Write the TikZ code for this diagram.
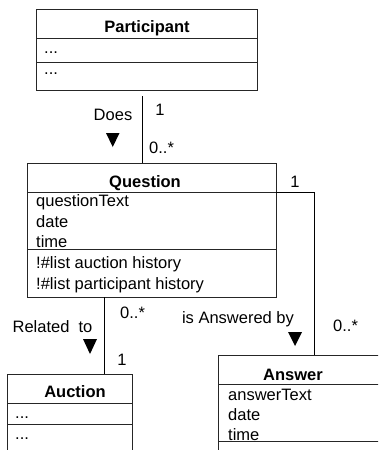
\documentclass[tikz,border=0pt]{standalone}
\usepackage{fontspec}
\setmainfont{Liberation Sans}
\begin{document}
\begin{tikzpicture}[x=1pt,y=-1pt,
  box/.style={draw=black!85,line width=1pt,rectangle,inner sep=0pt,anchor=north west},
  sep/.style={draw=black!85,line width=1pt},
  conn/.style={draw=black,line width=0.8pt},
  txt/.style={inner sep=0pt,anchor=base west,font=\fontsize{16.5}{20}\selectfont},
  ttl/.style={inner sep=0pt,anchor=base,font=\fontsize{16.5}{20}\selectfont\bfseries},
  lbl/.style={inner sep=0pt,anchor=base,font=\fontsize{16.5}{20}\selectfont},
  tri/.style={fill=black}]
\clip (0,0) rectangle (378,450);
\fill[white] (0,0) rectangle (378,450);
% Participant
\node[box,minimum width=221pt,minimum height=81pt] (P) at (36,9) {};
\draw[sep] (36,38) -- (257,38);
\draw[sep] (36,62) -- (257,62);
\node[ttl] (Pt) at (147,32) {Participant};
\node[txt] (Pa) at (44,53) {...};
\node[txt] (Pb) at (44,74) {...};
% Question
\node[box,minimum width=249pt,minimum height=134pt] (Q) at (27,163) {};
\draw[sep] (27,192) -- (276,192);
\draw[sep] (27,249) -- (276,249);
\node[ttl] (Qt) at (145,187) {Question};
\node[txt] (Q1) at (36,206) {questionText};
\node[txt] (Q2) at (36,227) {date};
\node[txt] (Q3) at (36,247) {time};
\node[txt] (Q4) at (36,268) {!\#list auction history};
\node[txt] (Q5) at (36,289) {!\#list participant history};
% Auction
\node[box,minimum width=125pt,minimum height=100pt] (Au) at (7,374) {};
\draw[sep] (7,403) -- (132,403);
\draw[sep] (7,424) -- (132,424);
\node[ttl] (Aut) at (75,397) {Auction};
\node[txt] (Aua) at (15,418) {...};
\node[txt] (Aub) at (15,439) {...};
% Answer
\node[box,minimum width=180pt,minimum height=120pt] (An) at (218,355) {};
\draw[sep] (218,384) -- (398,384);
\draw[sep] (218,441) -- (398,441);
\node[ttl] (Ant) at (293,380) {Answer};
\node[txt] (An1) at (228,400) {answerText};
\node[txt] (An2) at (228,420) {date};
\node[txt] (An3) at (228,440) {time};
% Connectors
\coordinate (d0) at (142,96);
\draw[conn] (d0) -- (d0 |- Q.north);
\coordinate (r0) at (104,297);
\draw[conn] (r0) -- (r0 |- Au.north);
\coordinate (a0) at (276,192);
\coordinate (a1) at (314,355);
\draw[conn] (a0) -| (a1);
% Labels
\node[lbl] (Ld) at (113,120) {Does};
\fill[tri] (106,133) -- (119.5,133) -- (112.75,147) -- cycle;
\node[lbl] (L1) at (160,115) {1};
\node[txt] (L2) at (149,153) {0..*};
\node[lbl] (L3) at (295,187) {1};
\node[txt] (L4) at (120,318) {0..*};
\node[lbl] (Lr) at (52.5,332) {Related\ \ to};
\fill[tri] (83,339) -- (97,339) -- (90,354) -- cycle;
\node[lbl] (L5) at (122,365) {1};
\node[lbl] (La) at (238,323) {is Answered by};
\fill[tri] (288,332) -- (302,332) -- (295,346) -- cycle;
\node[txt] (L6) at (333,331) {0..*};
\end{tikzpicture}
\end{document}
